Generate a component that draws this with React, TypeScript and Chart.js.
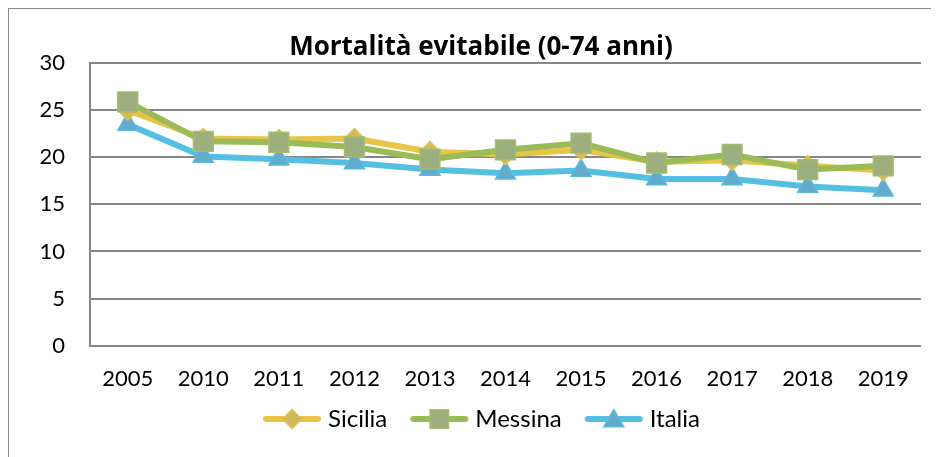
import React, { useEffect, useRef } from 'react';
import { Chart, registerables } from 'chart.js';

Chart.register(...registerables);

const categories = ['2005', '2010', '2011', '2012', '2013', '2014', '2015', '2016', '2017', '2018', '2019'];
const sicilia = [25.0, 22.0, 21.9, 22.0, 20.6, 20.3, 20.8, 19.5, 19.7, 19.1, 18.6];
const messina = [25.9, 21.7, 21.6, 21.1, 19.8, 20.8, 21.5, 19.4, 20.3, 18.7, 19.1];
const italia = [23.5, 20.1, 19.8, 19.4, 18.7, 18.3, 18.6, 17.7, 17.7, 16.9, 16.5];
const seriesNames = ['Sicilia', 'Messina', 'Italia'];
const yMin = 0;
const yMax = 30;
const yStep = 5;
const chartTitle = 'Mortalità evitabile (0-74 anni)';

const FONT = 'Lato, "Open Sans", sans-serif';
const TITLE_FONT = '"Open Sans", Lato, sans-serif';

const styles = [
  { line: '#E8C547', fill: '#D2B95C', border: '#E0C04F', shape: 'rectRot', radius: 10 },
  { line: '#9BBB59', fill: '#9DAF7E', border: '#A3BD6A', shape: 'rect', radius: 14 },
  { line: '#55BFE3', fill: '#62ABCB', border: '#58B8DD', shape: 'triangle', radius: 11.5 },
];

function drawShape(ctx: CanvasRenderingContext2D, shape: string, x: number, y: number, r: number) {
  ctx.beginPath();
  if (shape === 'rect') {
    const s = Math.SQRT1_2 * r;
    ctx.rect(x - s, y - s, 2 * s, 2 * s);
  } else if (shape === 'rectRot') {
    ctx.moveTo(x - r, y);
    ctx.lineTo(x, y - r);
    ctx.lineTo(x + r, y);
    ctx.lineTo(x, y + r);
    ctx.closePath();
  } else {
    ctx.moveTo(x, y - r);
    ctx.lineTo(x + Math.sin(Math.PI / 3) * r, y + r / 2);
    ctx.lineTo(x - Math.sin(Math.PI / 3) * r, y + r / 2);
    ctx.closePath();
  }
  ctx.fill();
  ctx.stroke();
}

function makeIcon(st: typeof styles[number]) {
  const c = document.createElement('canvas');
  c.width = 60;
  c.height = 26;
  const ctx = c.getContext('2d')!;
  ctx.lineCap = 'round';
  ctx.strokeStyle = st.line;
  ctx.lineWidth = 6;
  ctx.beginPath();
  ctx.moveTo(4, 13);
  ctx.lineTo(56, 13);
  ctx.stroke();
  ctx.fillStyle = st.fill;
  ctx.strokeStyle = st.border;
  ctx.lineWidth = 1.5;
  const r = st.shape === 'rect' ? 13 : st.shape === 'rectRot' ? 9.5 : 11.5;
  drawShape(ctx, st.shape, 30, st.shape === 'triangle' ? 15 : 13, r);
  return c;
}

const boxShift = {
  id: 'boxShift',
  afterLayout(chart: any) {
    if (chart.legend) {
      chart.legend.top -= 33;
      chart.legend.bottom -= 33;
      chart.legend.left += 19;
      chart.legend.right += 19;
    }
    if (chart.titleBlock) {
      chart.titleBlock.left += 16;
      chart.titleBlock.right += 16;
    }
  },
};

export default function App() {
  const ref = useRef<HTMLCanvasElement | null>(null);

  useEffect(() => {
    if (!ref.current) return;
    const values = [sicilia, messina, italia];
    const orders = [1, 0, 2];
    const icons = styles.map(makeIcon);
    const chart = new Chart(ref.current, {
      type: 'line',
      data: {
        labels: categories,
        datasets: seriesNames.map((name, i) => ({
          label: name,
          data: values[i],
          borderColor: styles[i].line,
          backgroundColor: styles[i].fill,
          borderWidth: 6,
          pointStyle: styles[i].shape as any,
          pointRadius: styles[i].radius,
          pointHoverRadius: styles[i].radius,
          pointBackgroundColor: styles[i].fill,
          pointBorderColor: styles[i].border,
          pointBorderWidth: 1.5,
          tension: 0,
          order: orders[i],
          borderJoinStyle: 'round' as const,
          borderCapStyle: 'round' as const,
        })),
      },
      plugins: [boxShift],
      options: {
        animation: false,
        responsive: false,
        maintainAspectRatio: false,
        layout: { padding: { left: 0, right: 32, top: 0, bottom: 5 } },
        plugins: {
          title: {
            display: true,
            text: chartTitle,
            color: '#000',
            font: { family: TITLE_FONT, size: 26, weight: 'bold' },
            padding: { top: 23, bottom: 0 },
          },
          legend: {
            position: 'bottom',
            labels: {
              color: '#000',
              font: { family: FONT, size: 24 },
              usePointStyle: true,
              pointStyleWidth: 48,
              padding: 28,
              generateLabels: () =>
                seriesNames.map((name, i) => ({
                  text: name,
                  pointStyle: icons[i] as any,
                  datasetIndex: i,
                  fillStyle: styles[i].fill,
                  strokeStyle: styles[i].line,
                  lineWidth: 0,
                  hidden: false,
                  fontColor: '#000',
                })),
            },
          },
          tooltip: { enabled: false },
        },
        scales: {
          x: {
            offset: true,
            grid: { display: false, drawTicks: false },
            border: { display: false },
            ticks: { color: '#000', font: { family: FONT, size: 22 }, padding: 20, maxRotation: 0, autoSkip: false },
          },
          y: {
            min: yMin,
            max: yMax,
            afterFit: (s: any) => { s.width = 81; },
            grid: { color: '#868686', lineWidth: 2, drawTicks: false },
            border: { display: true, color: '#868686', width: 2 },
            ticks: { stepSize: yStep, color: '#000', font: { family: FONT, size: 22 }, padding: 25 },
          },
        },
      },
    });
    return () => chart.destroy();
  }, []);

  return (
    <div
      style={{
        position: 'relative',
        width: 931,
        height: 449,
        overflow: 'hidden',
        boxSizing: 'border-box',
        borderLeft: '1px solid #8a8a8a',
        borderTop: '1px solid #8a8a8a',
        background: '#fff',
      }}
    >
      <div style={{ position: 'absolute', left: 0, top: 0, width: 944, height: 470 }}>
        <canvas ref={ref} width={944} height={470} style={{ width: 944, height: 470 }} />
      </div>
    </div>
  );
}
